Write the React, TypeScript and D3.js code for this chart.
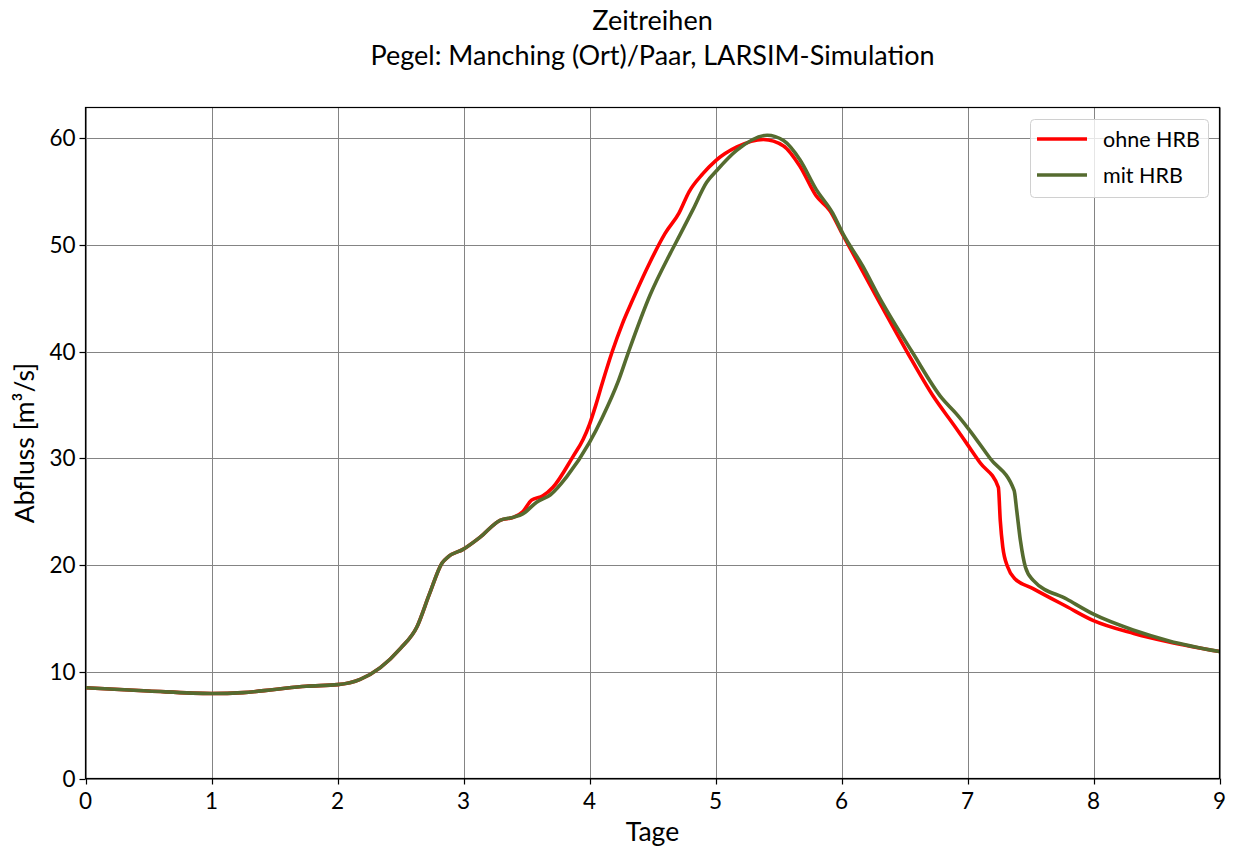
import React from "react";
import * as d3 from "d3";

const titleLines = ["Zeitreihen", "Pegel: Manching (Ort)/Paar, LARSIM-Simulation"];
const xLabel = "Tage";
const yLabel = "Abfluss [m³/s]";
const xTicks = [0, 1, 2, 3, 4, 5, 6, 7, 8, 9];
const yTicks = [0, 10, 20, 30, 40, 50, 60];
const seriesNames = ["ohne HRB", "mit HRB"];
const seriesColors = ["#ff0000", "#556b2f"];

const daysOhne = [0, 0.5, 1.0, 1.25, 1.5, 1.75, 2.0, 2.18, 2.34, 2.5, 2.63, 2.73, 2.83, 2.88, 3.0, 3.13, 3.29, 3.4, 3.47, 3.54, 3.63, 3.71, 3.87, 3.95, 4.0, 4.05, 4.1, 4.18, 4.26, 4.34, 4.48, 4.6, 4.71, 4.79, 4.9, 5.0, 5.17, 5.38, 5.54, 5.67, 5.8, 5.91, 6.0, 6.28, 6.52, 6.73, 6.9, 7.0, 7.1, 7.245, 7.26, 7.28, 7.32, 7.37, 7.52, 7.79, 8.0, 8.32, 8.6, 9.0];
const valuesOhne = [8.5, 8.2, 7.97, 8.05, 8.35, 8.65, 8.8, 9.3, 10.4, 12.2, 14.2, 17.3, 20.2, 20.8, 21.5, 22.6, 24.2, 24.5, 25.0, 26.1, 26.5, 27.3, 30.2, 31.8, 33.2, 35.0, 37.0, 40.0, 42.6, 44.8, 48.4, 51.1, 53.0, 55.0, 56.7, 57.9, 59.2, 59.9, 59.3, 57.4, 54.6, 53.2, 51.2, 45.1, 40.0, 35.8, 33.0, 31.3, 29.6, 27.3, 24.2, 21.7, 19.8, 18.8, 17.8, 16.1, 14.8, 13.6, 12.8, 11.9];

const daysMit = [0, 0.5, 1.0, 1.25, 1.5, 1.75, 2.0, 2.18, 2.34, 2.5, 2.63, 2.73, 2.83, 2.88, 3.0, 3.13, 3.29, 3.4, 3.47, 3.58, 3.69, 3.82, 4.0, 4.1, 4.23, 4.31, 4.48, 4.64, 4.72, 4.82, 4.93, 5.01, 5.17, 5.41, 5.54, 5.67, 5.8, 5.93, 6.01, 6.17, 6.3, 6.56, 6.8, 6.91, 7.0, 7.18, 7.37, 7.39, 7.42, 7.46, 7.52, 7.79, 8.0, 8.32, 8.6, 9.0];
const valuesMit = [8.5, 8.2, 7.97, 8.05, 8.35, 8.65, 8.8, 9.3, 10.4, 12.2, 14.2, 17.3, 20.2, 20.8, 21.5, 22.6, 24.2, 24.5, 24.8, 25.9, 26.6, 28.3, 31.5, 33.8, 37.3, 40.0, 45.3, 49.2, 51.0, 53.3, 55.9, 57.0, 58.9, 60.3, 59.8, 58.0, 55.2, 53.0, 51.1, 48.0, 45.1, 40.0, 35.6, 34.2, 32.9, 30.0, 27.0, 25.2, 22.3, 19.8, 18.6, 16.8, 15.4, 13.9, 12.9, 11.9];

const W = 1233;
const H = 849;
const FONT = "Lato, 'Noto Sans', sans-serif";

export default function App() {
  const left = 85.5, right = 1219.5, top = 107.5, bottom = 778.5;
  const x = d3.scaleLinear().domain([0, 9]).range([left, right]);
  const y = d3.scaleLinear().domain([0, 62.9]).range([bottom, top]);
  const line = d3
    .line<[number, number]>()
    .x((d) => x(d[0]))
    .y((d) => y(d[1]))
    .curve(d3.curveMonotoneX);

  const series = [
    daysOhne.map((d, i) => [d, valuesOhne[i]] as [number, number]),
    daysMit.map((d, i) => [d, valuesMit[i]] as [number, number]),
  ];

  return (
    <svg width={W} height={H} style={{ position: "absolute", left: 0, top: 0, background: "#fff" }} fontFamily={FONT}>
      <rect x={0} y={0} width={W} height={H} fill="#fff" />
      {titleLines.map((t, i) => (
        <text key={i} x={(left + right) / 2} y={30 + i * 35} textAnchor="middle" fontSize={27} fill="#000">
          {t}
        </text>
      ))}
      <defs>
        <clipPath id="plotclip">
          <rect x={left} y={top} width={right - left} height={bottom - top} />
        </clipPath>
      </defs>
      {xTicks.map((t) => (
        <line key={"gx" + t} x1={Math.round(x(t)) + 0.5} x2={Math.round(x(t)) + 0.5} y1={top} y2={bottom} stroke="#848484" strokeWidth={1} />
      ))}
      {yTicks.map((t) => (
        <line key={"gy" + t} x1={left} x2={right} y1={Math.round(y(t)) + 0.5} y2={Math.round(y(t)) + 0.5} stroke="#848484" strokeWidth={1} />
      ))}
      <g clipPath="url(#plotclip)">
        {series.map((s, i) => (
          <path key={i} d={line(s) || ""} fill="none" stroke={seriesColors[i]} strokeWidth={3.6} strokeLinejoin="round" strokeLinecap="butt" />
        ))}
      </g>
      <rect x={left} y={top} width={right - left} height={bottom - top} fill="none" stroke="#000" strokeWidth={1.2} />
      {xTicks.map((t) => (
        <g key={"tx" + t}>
          <line x1={Math.round(x(t)) + 0.5} x2={Math.round(x(t)) + 0.5} y1={bottom} y2={bottom + 6} stroke="#000" strokeWidth={1.2} />
          <text x={x(t)} y={bottom + 30} textAnchor="middle" fontSize={22.5} fill="#000">
            {t}
          </text>
        </g>
      ))}
      {yTicks.map((t) => (
        <g key={"ty" + t}>
          <line x1={left - 6} x2={left} y1={Math.round(y(t)) + 0.5} y2={Math.round(y(t)) + 0.5} stroke="#000" strokeWidth={1.2} />
          <text x={left - 10} y={y(t) + 8} textAnchor="end" fontSize={22.5} fill="#000">
            {t}
          </text>
        </g>
      ))}
      <text x={(left + right) / 2} y={841} textAnchor="middle" fontSize={26.5} fill="#000">
        {xLabel}
      </text>
      <text transform={`translate(34, ${(top + bottom) / 2}) rotate(-90)`} textAnchor="middle" fontSize={26.5} fill="#000">
        {yLabel}
      </text>
      <g>
        <rect x={1030.5} y={119.5} width={178} height={78} rx={4} fill="#fff" fillOpacity={0.8} stroke="#d0d0d0" strokeWidth={1} />
        {seriesNames.map((n, i) => (
          <g key={n}>
            <line x1={1037} x2={1087} y1={139 + i * 36} y2={139 + i * 36} stroke={seriesColors[i]} strokeWidth={3.6} />
            <text x={1103} y={139 + i * 36 + 8} fontSize={21.5} fill="#000">
              {n}
            </text>
          </g>
        ))}
      </g>
    </svg>
  );
}
